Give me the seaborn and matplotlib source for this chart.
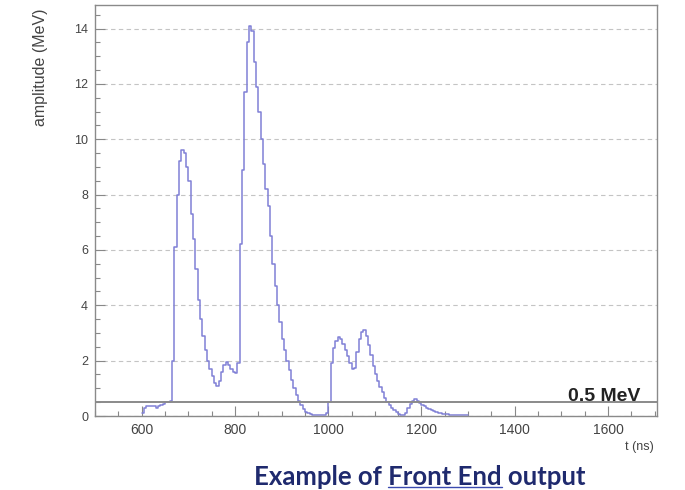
import numpy as np
import pandas as pd
import matplotlib
matplotlib.use("Agg")
import matplotlib.pyplot as plt
from matplotlib.lines import Line2D
from matplotlib.ticker import MultipleLocator
import seaborn as sns

# ---- data, 5 ns bins starting at 600 ns ----
bin_width_ns = 5
t_start_ns = np.arange(600, 1300, 5)
amplitude_mev = [
    0.10, 0.30, 0.35, 0.35, 0.35, 0.35, 0.30, 0.35, 0.40, 0.45,   # 600-645
    0.50, 0.50, 0.55, 2.00, 6.10, 8.00, 9.20, 9.60, 9.50, 9.00,   # 650-695
    8.50, 7.30, 6.40, 5.30, 4.20, 3.50, 2.90, 2.40, 2.00, 1.70,   # 700-745
    1.45, 1.20, 1.10, 1.25, 1.60, 1.85, 1.95, 1.85, 1.70, 1.60,   # 750-795
    1.55, 1.90, 6.20, 8.90, 11.70, 13.50, 14.10, 13.90, 12.80, 11.90,  # 800-845
    11.00, 10.00, 9.10, 8.20, 7.60, 6.50, 5.50, 4.70, 4.00, 3.40,  # 850-895
    2.80, 2.40, 2.00, 1.65, 1.30, 1.00, 0.75, 0.55, 0.38, 0.25,   # 900-945
    0.15, 0.10, 0.07, 0.05, 0.03, 0.02, 0.02, 0.03, 0.05, 0.10,   # 950-995
    0.50, 1.90, 2.45, 2.70, 2.85, 2.80, 2.60, 2.40, 2.15, 1.90,   # 1000-1045
    1.70, 1.75, 2.30, 2.80, 3.05, 3.10, 2.90, 2.55, 2.20, 1.80,   # 1050-1095
    1.50, 1.25, 1.05, 0.85, 0.65, 0.50, 0.40, 0.30, 0.22, 0.15,   # 1100-1145
    0.08, 0.03, 0.02, 0.10, 0.30, 0.45, 0.55, 0.60, 0.55, 0.48,   # 1150-1195
    0.40, 0.35, 0.30, 0.25, 0.20, 0.17, 0.15, 0.12, 0.10, 0.08,   # 1200-1245
    0.07, 0.06, 0.05, 0.04, 0.04, 0.03, 0.03, 0.02, 0.02, 0.02,   # 1250-1295
]
threshold_mev = 0.5
threshold_label = "0.5 MeV"
x_label = "t (ns)"
y_label = "amplitude (MeV)"
caption_parts = ["Example of ", "Front End", " output"]

df = pd.DataFrame({"t": t_start_ns + bin_width_ns / 2, "amp": amplitude_mev})

sns.set_style("white")
plt.rcParams["font.family"] = ["Liberation Sans", "DejaVu Sans"]

fig = plt.figure(figsize=(6.85, 4.9), dpi=100)
ax = fig.add_axes([95 / 685, 74 / 490, 562 / 685, 411 / 490])

sns.histplot(data=df, x="t", weights="amp", binwidth=bin_width_ns,
             binrange=(t_start_ns[0], t_start_ns[-1] + bin_width_ns),
             element="step", fill=False, color="#8080d6", linewidth=1.1, ax=ax)

ax.set_xlim(500, 1705)
ax.set_ylim(0, 14.85)

ax.yaxis.set_major_locator(MultipleLocator(2))
ax.yaxis.set_minor_locator(MultipleLocator(0.5))
ax.xaxis.set_major_locator(MultipleLocator(200))
ax.xaxis.set_minor_locator(MultipleLocator(50))
ax.grid(axis="y", which="major", linestyle=(0, (4, 3)), color="#c4c4c4", linewidth=0.8)
ax.grid(axis="x", visible=False)
ax.set_axisbelow(True)

ax.axhline(threshold_mev, color="#8a8a8a", linewidth=1.4, zorder=3)
ax.text(1670, threshold_mev + 0.06, threshold_label, ha="right", va="baseline",
        fontsize=14, fontweight="bold", color="#222222")

for s in ax.spines.values():
    s.set_color("#8a8a8a")
    s.set_linewidth(1.0)

ax.tick_params(axis="both", which="major", direction="in", length=7, width=0.8,
               color="#888888", labelcolor="#444444", pad=5)
ax.tick_params(axis="x", which="major", labelsize=10)
ax.tick_params(axis="y", which="major", labelsize=9)
ax.tick_params(axis="both", which="minor", direction="in", length=3.5, width=0.8,
               color="#888888")
ax.tick_params(axis="x", which="both", top=False, bottom=True)
ax.tick_params(axis="y", which="both", right=False, left=True)

ax.set_xlabel("")
ax.set_ylabel("")
fig.text(654 / 685, 1 - 447 / 490, x_label, ha="right", va="center",
         fontsize=9, color="#444444")
fig.text(40 / 685, 1 - 8 / 490, y_label, ha="center", va="top", rotation=90,
         fontsize=11.5, color="#444444")

cap_color = "#1f2a6e"
full = "".join(caption_parts)
cap_kw = dict(fontsize=18.5, fontweight="bold", color=cap_color,
              family=["Lato", "DejaVu Sans"])
cx, cy = 420 / 685, 1 - 477 / 490
t_full = fig.text(cx, cy, full, ha="center", va="center", **cap_kw)
fig.canvas.draw()
r = fig.canvas.get_renderer()


def width_of(s):
    t = fig.text(0, 0, s, **cap_kw)
    w = t.get_window_extent(r).width
    t.remove()
    return w

bb = t_full.get_window_extent(r)
w_pre_F = width_of(caption_parts[0] + "F") - width_of("F")
w_to_end = width_of(caption_parts[0] + caption_parts[1])
x0 = (bb.x0 + w_pre_F) / fig.bbox.width
x1 = (bb.x0 + w_to_end) / fig.bbox.width
y_u = (bb.y0 + 2.0) / fig.bbox.height
fig.add_artist(Line2D([x0, x1], [y_u, y_u], color="#3a4ab0", linewidth=1.0,
                      transform=fig.transFigure))

fig.savefig("out.png", dpi=100)
